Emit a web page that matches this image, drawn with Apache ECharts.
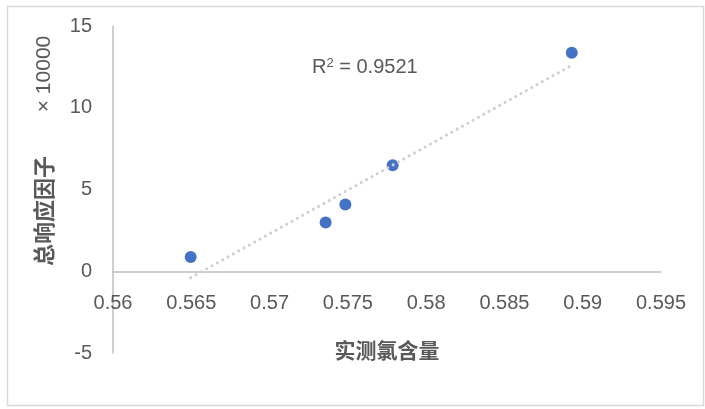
<!DOCTYPE html>
<html>
<head>
<meta charset="utf-8">
<script src="https://cdn.jsdelivr.net/npm/echarts@6/dist/echarts.min.js"></script>
<style>
html,body{margin:0;padding:0;background:#fff;}
#chart{width:705px;height:409px;}
</style>
</head>
<body>
<div id="chart"></div>
<script>
// Data (y in raw units; displayed as ×10000)
var chlorideMeasured = [0.56496, 0.57358, 0.57484, 0.57786, 0.5893];
var totalResponseFactor = [8750, 29800, 40800, 64900, 133600];
var xTicks = [0.56, 0.565, 0.57, 0.575, 0.58, 0.585, 0.59, 0.595];
var yTicks = [-5, 0, 5, 10, 15];
var rSquaredLabel = "0.9521";

var points = chlorideMeasured.map(function (x, i) { return [x, totalResponseFactor[i]]; });

// linear regression trendline from the data
var n = points.length, mx = 0, my = 0;
points.forEach(function (p) { mx += p[0]; my += p[1]; });
mx /= n; my /= n;
var sxy = 0, sxx = 0;
points.forEach(function (p) { sxy += (p[0] - mx) * (p[1] - my); sxx += (p[0] - mx) * (p[0] - mx); });
var slope = sxy / sxx, intercept = my - slope * mx;
var xMin = Math.min.apply(null, chlorideMeasured), xMax = Math.max.apply(null, chlorideMeasured);
var trend = [[xMin, intercept + slope * xMin], [xMax, intercept + slope * xMax]];

var gridTop = 26, gridBottom = 56, H = 409;
var gridH = H - gridTop - gridBottom;
var yMinV = yTicks[0], yMaxV = yTicks[yTicks.length - 1];
var zeroOffset = -gridH * (0 - yMinV) / (yMaxV - yMinV);

var textColor = '#595959';
var fontFam = '"Noto Sans CJK SC", "Liberation Sans", sans-serif';
var chart = echarts.init(document.getElementById('chart'));
chart.setOption({
  animation: false,
  backgroundColor: '#fff',
  grid: { left: 113, right: 44, top: gridTop, bottom: gridBottom, outerBoundsMode: 'none', containLabel: false },
  xAxis: {
    type: 'value', position: 'bottom', offset: zeroOffset,
    min: xTicks[0], max: xTicks[xTicks.length - 1], interval: 0.005,
    axisLine: { onZero: false, lineStyle: { color: '#bfbfbf', width: 1.5 } },
    axisTick: { show: false },
    splitLine: { show: false },
    axisLabel: { color: textColor, fontSize: 20, fontFamily: 'Liberation Sans', margin: 22,
      formatter: function (v) { return String(+v.toFixed(3)); } },
    name: '实测氯含量', nameLocation: 'middle', nameGap: 68,
    nameTextStyle: { color: textColor, fontSize: 21, fontWeight: 'bold', fontFamily: fontFam }
  },
  yAxis: {
    type: 'value',
    min: yMinV * 10000, max: yMaxV * 10000, interval: 50000,
    axisLine: { show: true, onZero: false, lineStyle: { color: '#bfbfbf', width: 1.5 } },
    axisTick: { show: false },
    splitLine: { show: false },
    axisLabel: { color: textColor, fontSize: 20, fontFamily: 'Liberation Sans', margin: 21,
      formatter: function (v) { return String(Math.round(v / 10000)); } }
  },
  graphic: [
    { type: 'rect', left: 5, top: 4, shape: { width: 696, height: 399 }, silent: true,
      style: { fill: 'none', stroke: '#d9d9d9', lineWidth: 1.5 } },
    { type: 'text', x: 44, y: 211, rotation: Math.PI / 2,
      style: { text: '总响应因子', fill: textColor, font: 'bold 22px ' + fontFam, textAlign: 'center', textVerticalAlign: 'middle' } },
    { type: 'text', x: 44, y: 74, rotation: Math.PI / 2,
      style: { text: '× 10000', fill: textColor, font: '21px "Liberation Sans"', textAlign: 'center', textVerticalAlign: 'middle' } },
    { type: 'text', x: 312, y: 67,
      style: { text: '{a|R}{s|2}{a| = ' + rSquaredLabel + '}', textVerticalAlign: 'middle',
        rich: { a: { fill: textColor, fontSize: 20, fontFamily: 'Liberation Sans' },
                s: { fill: textColor, fontSize: 13, fontFamily: 'Liberation Sans', verticalAlign: 'top', padding: [0, 0, 8, 0] } } } }
  ],
  series: [
    { type: 'scatter', data: points, symbolSize: 12, itemStyle: { color: '#4472C4', opacity: 1 }, z: 2 },
    { type: 'line', data: trend, showSymbol: false, symbol: 'none', z: 3,
      lineStyle: { color: '#d0d0d0', width: 3, type: [0.1, 6], cap: 'round' } }
  ]
});
</script>
</body>
</html>
